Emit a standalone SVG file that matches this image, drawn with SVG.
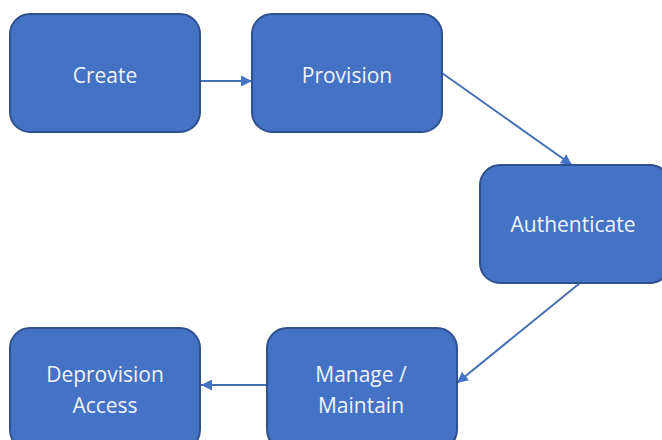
<svg xmlns="http://www.w3.org/2000/svg" width="662" height="440" viewBox="0 0 662 440">
<style>
.box{fill:#4472C4;stroke:#2F528F;stroke-width:2}
.t{font-family:"Open Sans","Liberation Sans",sans-serif;font-size:21px;fill:#EEF3FB;text-anchor:middle}
.c{stroke:#4670B4;stroke-width:2;fill:none}
</style>
<defs>
<marker id="ah" viewBox="0 0 10 10" refX="10" refY="5" markerWidth="11" markerHeight="11" markerUnits="userSpaceOnUse" orient="auto">
<path d="M0,0 L10,5 L0,10 Z" fill="#4472C4"/>
</marker>
</defs>
<rect width="662" height="440" fill="#FFFFFF"/>
<g id="connectors">
<line class="c" x1="200" y1="81" x2="252" y2="81" marker-end="url(#ah)"/>
<line class="c" x1="442" y1="73" x2="572" y2="165" marker-end="url(#ah)"/>
<line class="c" x1="580" y1="283" x2="457" y2="383" marker-end="url(#ah)"/>
<line class="c" x1="267" y1="385" x2="201" y2="385" marker-end="url(#ah)"/>
</g>
<g id="create">
<rect class="box" x="10" y="14" width="190" height="118" rx="20"/>
<text class="t" x="105" y="83">Create</text>
</g>
<g id="provision">
<rect class="box" x="252" y="14" width="190" height="118" rx="20"/>
<text class="t" x="347" y="83">Provision</text>
</g>
<g id="authenticate">
<rect class="box" x="480" y="165" width="190" height="118" rx="20"/>
<text class="t" x="573" y="232">Authenticate</text>
</g>
<g id="manage">
<rect class="box" x="267" y="328" width="190" height="122" rx="20"/>
<text class="t" x="361" y="382">Manage /</text>
<text class="t" x="361" y="413">Maintain</text>
</g>
<g id="deprovision">
<rect class="box" x="10" y="328" width="190" height="122" rx="20"/>
<text class="t" x="105" y="382">Deprovision</text>
<text class="t" x="105" y="413">Access</text>
</g>
</svg>
